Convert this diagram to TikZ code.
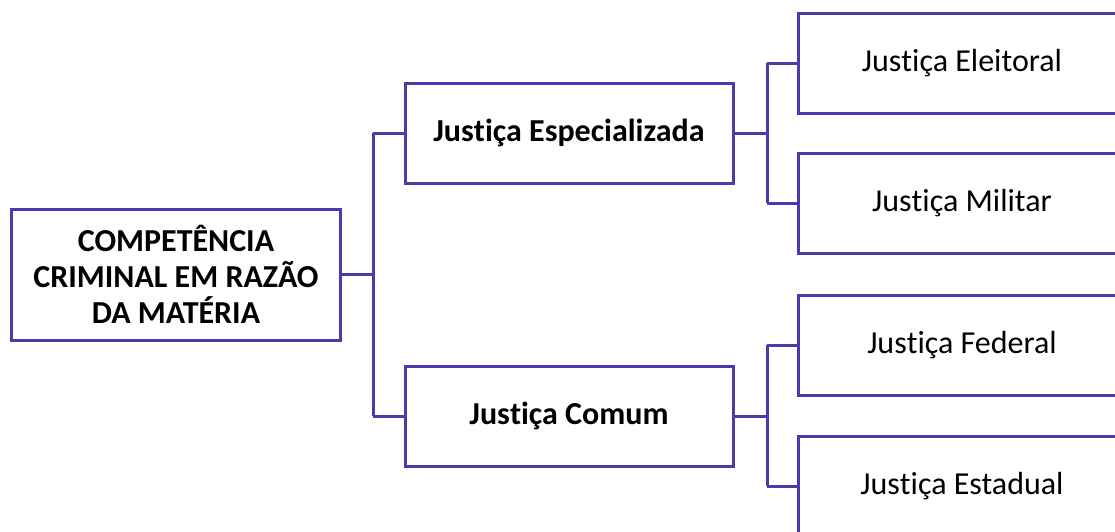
\documentclass[tikz,border=0pt]{standalone}
\usepackage{fontspec}
\setmainfont{Carlito}[Ligatures=NoCommon,RawFeature={-liga;-clig;-dlig}]
\definecolor{edge}{RGB}{78,58,170}
\newcommand{\jus}{Jus\kern0pt ti\kern0pt ça}
\begin{document}
\begin{tikzpicture}[x=1pt,y=-1pt,
  box/.style={draw=edge,line width=3pt,fill=white,inner sep=0pt,outer sep=0pt,anchor=north west},
  link/.style={draw=edge,line width=3pt},
  big/.style={font=\fontsize{32}{36}\selectfont\bfseries,align=center},
  mid/.style={font=\fontsize{32}{38}\selectfont\bfseries},
  leaf/.style={font=\fontsize{32}{38}\selectfont}]
\useasboundingbox (0,0) rectangle (1115,531);
\begin{scope}
\clip (0,0) rectangle (1115,531);
\node[box,minimum width=329pt,minimum height=131pt] (root) at (11,209) {};
\node[big] (troot) at (176,274) {COMPETÊNCIA\\CRIMINAL EM RAZÃO\\DA MATÉRIA};
\node[box,minimum width=328pt,minimum height=100pt] (esp) at (405,83) {};
\node[mid] (tesp) at (esp.center) {\jus{} Especializada};
\node[box,minimum width=328pt,minimum height=100pt] (com) at (405,366) {};
\node[mid] (tcom) at (com.center) {\jus{} Comum};
\node[box,minimum width=340pt,minimum height=100pt] (ele) at (798,13) {};
\node[box,minimum width=340pt,minimum height=100pt] (mil) at (798,153) {};
\node[box,minimum width=340pt,minimum height=100pt] (fed) at (798,295) {};
\node[box,minimum width=340pt,minimum height=100pt] (est) at (798,436) {};
\node[leaf] (tele) at (962,63) {\jus{} Eleitoral};
\node[leaf] (tmil) at (962,203) {\jus{} Militar};
\node[leaf] (tfed) at (962,345) {\jus{} Federal};
\node[leaf] (test) at (962,486) {\jus{} Estadual};
\coordinate (j1) at (373,275);
\coordinate (j2) at (767,133);
\coordinate (j3) at (767,416);
\draw[link] (root.east) -- (root.east -| j1);
\draw[link] (j1 |- esp.west) -- (j1 |- com.west);
\draw[link] (j1 |- esp.west) -- (esp.west);
\draw[link] (j1 |- com.west) -- (com.west);
\draw[link] (esp.east) -- (esp.east -| j2);
\draw[link] (j2 |- ele.west) -- (j2 |- mil.west);
\draw[link] (j2 |- ele.west) -- (ele.west);
\draw[link] (j2 |- mil.west) -- (mil.west);
\draw[link] (com.east) -- (com.east -| j3);
\draw[link] (j3 |- fed.west) -- (j3 |- est.west);
\draw[link] (j3 |- fed.west) -- (fed.west);
\draw[link] (j3 |- est.west) -- (est.west);
\end{scope}
\end{tikzpicture}
\end{document}
